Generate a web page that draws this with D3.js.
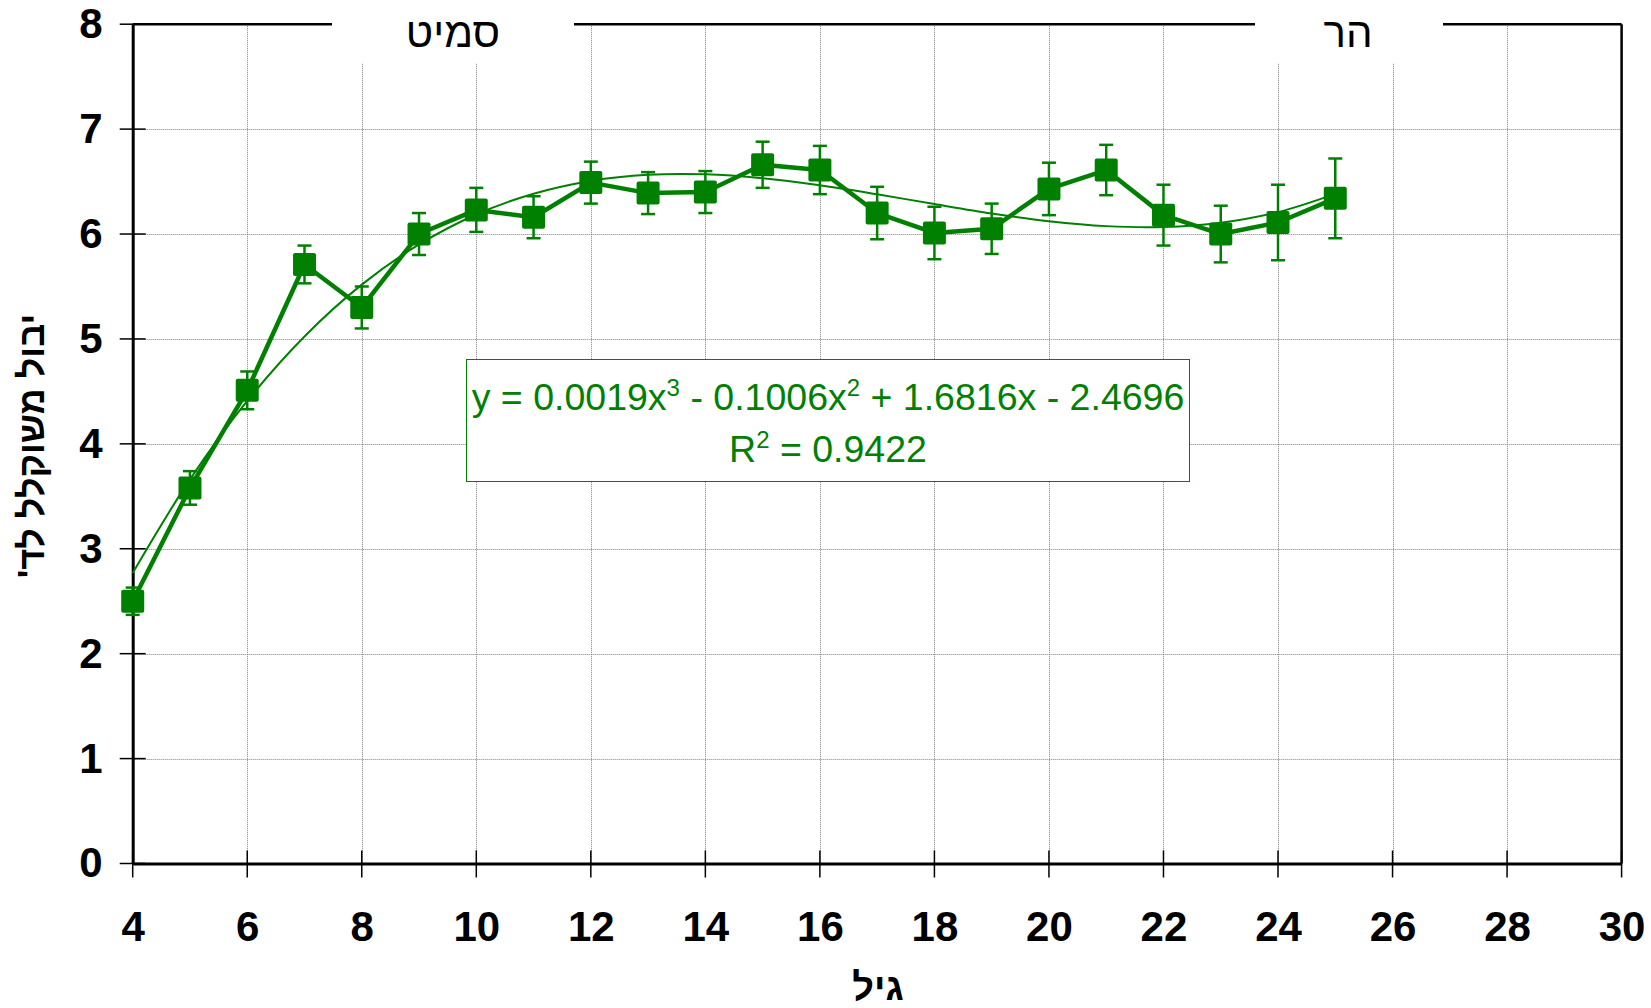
<!DOCTYPE html>
<html>
<head>
<meta charset="utf-8">
<script src="https://cdn.jsdelivr.net/npm/d3@7/dist/d3.min.js"></script>
<style>
  body { margin: 0; background: #fff; }
  svg text { font-family: "Liberation Sans", Arial, sans-serif; }
</style>
</head>
<body>
<script>

// ages on the x axis
var ages = [4, 5, 6, 7, 8, 9, 10, 11, 12, 13, 14, 15, 16, 17, 18, 19, 20, 21, 22, 23, 24, 25];
// weighted yield per dunam
var yields = [2.50, 3.58, 4.51, 5.71, 5.30, 6.00, 6.23, 6.16, 6.49, 6.39, 6.40, 6.66, 6.61, 6.20, 6.01, 6.05, 6.43, 6.61, 6.18, 6.00, 6.11, 6.34];
// error bar half-widths
var errors = [0.13, 0.16, 0.18, 0.18, 0.20, 0.20, 0.21, 0.20, 0.20, 0.20, 0.20, 0.22, 0.23, 0.25, 0.25, 0.24, 0.25, 0.24, 0.29, 0.27, 0.36, 0.38];
// cubic trend coefficients (x^3, x^2, x, 1)
var trendCoef = [0.0019, -0.1006, 1.6816, -2.4696];
var rSquared = "0.9422";

var xTicks = [4, 6, 8, 10, 12, 14, 16, 18, 20, 22, 24, 26, 28, 30];
var yTicks = [0, 1, 2, 3, 4, 5, 6, 7, 8];
var regionNames = ["סמיט", "הר"];

var width = 1651, height = 1008;
var green = "#008000";

var svg = d3.select("body").append("svg")
    .attr("width", width)
    .attr("height", height);

var x = d3.scaleLinear().domain([4, 30]).range([132.7, 1621.6]);
var y = d3.scaleLinear().domain([0, 8]).range([863.5, 24.2]);

// grid
var grid = svg.append("g")
    .attr("stroke", "#808080")
    .attr("stroke-width", 1)
    .attr("stroke-dasharray", "1,1");

grid.selectAll(".vg")
  .data(xTicks.filter(function(d) { return d > 4 && d < 30; }))
  .enter().append("line")
    .attr("x1", function(d) { return Math.round(x(d)) + 0.5; })
    .attr("x2", function(d) { return Math.round(x(d)) + 0.5; })
    .attr("y1", y(8))
    .attr("y2", y(0));

grid.selectAll(".hg")
  .data(yTicks.filter(function(d) { return d > 0 && d < 8; }))
  .enter().append("line")
    .attr("y1", function(d) { return Math.round(y(d)) + 0.5; })
    .attr("y2", function(d) { return Math.round(y(d)) + 0.5; })
    .attr("x1", x(4))
    .attr("x2", x(30));

// top and right border
svg.append("line")
    .attr("x1", x(4)).attr("x2", x(30))
    .attr("y1", y(8)).attr("y2", y(8))
    .attr("stroke", "#000").attr("stroke-width", 2.5);
svg.append("line")
    .attr("x1", x(30)).attr("x2", x(30))
    .attr("y1", y(8)).attr("y2", y(0))
    .attr("stroke", "#000").attr("stroke-width", 2.5);

// region labels on white boxes breaking the top border
var regionBoxes = [[332, 574], [1255, 1443]];
regionBoxes.forEach(function(b, i) {
  svg.append("rect")
      .attr("x", b[0]).attr("y", 0)
      .attr("width", b[1] - b[0]).attr("height", 63)
      .attr("fill", "#fff");
  svg.append("text")
      .attr("x", (b[0] + b[1]) / 2 + (i == 0 ? 0 : -1))
      .attr("y", 47)
      .attr("text-anchor", "middle")
      .attr("direction", "rtl")
      .attr("font-size", 42)
      .attr("fill", "#000")
      .text(regionNames[i]);
});

// axes
var yAxis = d3.axisLeft(y).tickValues(yTicks).tickSize(0).tickPadding(30);
var xAxis = d3.axisBottom(x).tickValues(xTicks).tickSize(0).tickPadding(48);

var gy = svg.append("g").attr("transform", "translate(" + x(4) + ",0)").call(yAxis);
var gx = svg.append("g").attr("transform", "translate(0," + y(0) + ")").call(xAxis);

[gx, gy].forEach(function(g) {
  g.select(".domain").attr("stroke", "#000").attr("stroke-width", 3);
  g.selectAll("text")
      .attr("font-family", "Liberation Sans, Arial, sans-serif")
      .attr("font-weight", "bold")
      .attr("font-size", 42)
      .attr("fill", "#000");
});

// crossing tick marks
svg.append("g").selectAll("line")
  .data(yTicks)
  .enter().append("line")
    .attr("x1", x(4) - 13).attr("x2", x(4) + 13)
    .attr("y1", function(d) { return y(d); })
    .attr("y2", function(d) { return y(d); })
    .attr("stroke", "#000").attr("stroke-width", 1.5);
svg.append("g").selectAll("line")
  .data(xTicks)
  .enter().append("line")
    .attr("y1", y(0) - 13).attr("y2", y(0) + 14)
    .attr("x1", function(d) { return x(d); })
    .attr("x2", function(d) { return x(d); })
    .attr("stroke", "#000").attr("stroke-width", 1.5);

// axis titles
svg.append("text")
    .attr("transform", "translate(44,446) rotate(-90)")
    .attr("text-anchor", "middle")
    .attr("direction", "rtl")
    .attr("font-size", 36)
    .attr("font-weight", "bold")
    .text("יבול משוקלל לד'");

svg.append("text")
    .attr("x", 878)
    .attr("y", 1000)
    .attr("text-anchor", "middle")
    .attr("direction", "rtl")
    .attr("font-size", 38)
    .attr("font-weight", "bold")
    .text("גיל");

// trend curve
function trend(a) {
  return trendCoef[0] * a * a * a + trendCoef[1] * a * a + trendCoef[2] * a + trendCoef[3];
}
var trendLine = d3.line()
    .x(function(d) { return x(d); })
    .y(function(d) { return y(trend(d)); })
    .curve(d3.curveCatmullRom);

svg.append("path")
    .datum(ages)
    .attr("d", trendLine)
    .attr("fill", "none")
    .attr("stroke", green)
    .attr("stroke-width", 2);

// data line
var dataLine = d3.line()
    .x(function(d, i) { return x(ages[i]); })
    .y(function(d) { return y(d); });

svg.append("path")
    .datum(yields)
    .attr("d", dataLine)
    .attr("fill", "none")
    .attr("stroke", green)
    .attr("stroke-width", 4.5)
    .attr("stroke-linejoin", "round");

// error bars
var eb = svg.append("g")
    .attr("stroke", green)
    .attr("stroke-width", 2.5);

ages.forEach(function(a, i) {
  var cx = x(a), hi = y(yields[i] + errors[i]), lo = y(yields[i] - errors[i]);
  eb.append("line").attr("x1", cx).attr("x2", cx).attr("y1", hi).attr("y2", lo);
  eb.append("line").attr("x1", cx - 7).attr("x2", cx + 7).attr("y1", hi).attr("y2", hi);
  eb.append("line").attr("x1", cx - 7).attr("x2", cx + 7).attr("y1", lo).attr("y2", lo);
});

// markers
svg.append("g").selectAll("rect")
  .data(yields)
  .enter().append("rect")
    .attr("x", function(d, i) { return x(ages[i]) - 11.5; })
    .attr("y", function(d) { return y(d) - 11.5; })
    .attr("width", 23)
    .attr("height", 23)
    .attr("rx", 2)
    .attr("fill", green);

// equation box
svg.append("rect")
    .attr("x", 466.5).attr("y", 359.5)
    .attr("width", 723).attr("height", 122)
    .attr("fill", "#fff")
    .attr("stroke", green)
    .attr("stroke-width", 1);

var eq = svg.append("text")
    .attr("x", 828)
    .attr("y", 410)
    .attr("text-anchor", "middle")
    .attr("font-size", 37.5)
    .attr("fill", green);

var coefText = trendCoef.map(function(c) { return Math.abs(c).toFixed(4); });
var sign = trendCoef.map(function(c) { return c < 0 ? " - " : " + "; });
eq.append("tspan").text("y = " + coefText[0] + "x");
eq.append("tspan").attr("dy", -14).attr("font-size", 24).text("3");
eq.append("tspan").attr("dy", 14).text(sign[1] + coefText[1] + "x");
eq.append("tspan").attr("dy", -14).attr("font-size", 24).text("2");
eq.append("tspan").attr("dy", 14).text(sign[2] + coefText[2] + "x" + sign[3] + coefText[3]);

var r2 = svg.append("text")
    .attr("x", 828)
    .attr("y", 462)
    .attr("text-anchor", "middle")
    .attr("font-size", 37.5)
    .attr("fill", green);
r2.append("tspan").text("R");
r2.append("tspan").attr("dy", -14).attr("font-size", 24).text("2");
r2.append("tspan").attr("dy", 14).text(" = " + rSquared);

</script>
</body>
</html>
